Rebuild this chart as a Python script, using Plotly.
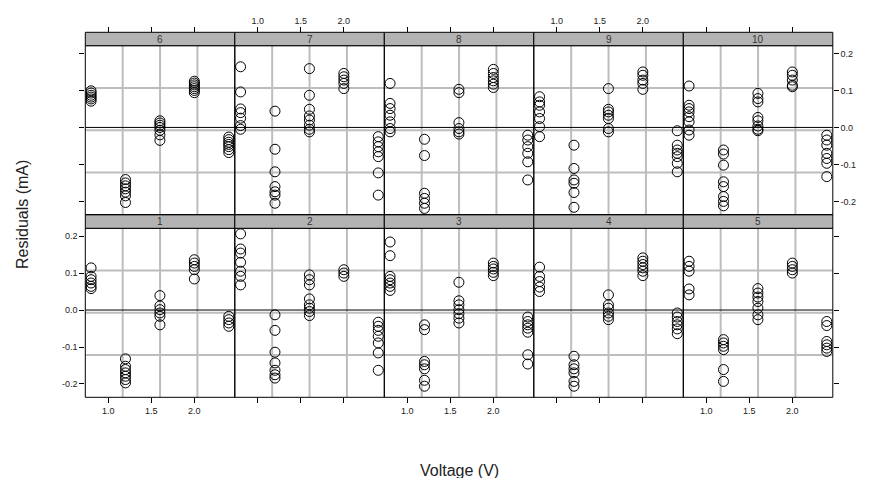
import plotly.graph_objects as go

# ---------------- data ----------------
voltages = [0.8, 1.2, 1.6, 2.0, 2.4]
panel_labels = ["1", "2", "3", "4", "5", "6", "7", "8", "9", "10"]

res_p1 = [[0.114, 0.091, 0.082, 0.073, 0.064, 0.058],
          [-0.132, -0.152, -0.161, -0.170, -0.179, -0.188, -0.197],
          [0.039, 0.011, 0.001, -0.008, -0.017, -0.040],
          [0.136, 0.127, 0.118, 0.109, 0.084],
          [-0.017, -0.026, -0.035, -0.044]]
res_p2 = [[0.206, 0.165, 0.154, 0.129, 0.105, 0.091, 0.068],
          [-0.013, -0.055, -0.114, -0.143, -0.163, -0.175, -0.184],
          [0.095, 0.082, 0.068, 0.030, 0.014, 0.005, -0.004, -0.015],
          [0.109, 0.100, 0.091],
          [-0.033, -0.044, -0.055, -0.071, -0.089, -0.116, -0.163]]
res_p3 = [[0.184, 0.147, 0.091, 0.082, 0.073, 0.064, 0.053],
          [-0.040, -0.053, -0.139, -0.148, -0.159, -0.190, -0.206],
          [0.075, 0.025, 0.014, 0.001, -0.010, -0.022, -0.035],
          [0.127, 0.118, 0.111, 0.102, 0.093],
          [-0.019, -0.031, -0.040, -0.049, -0.060, -0.121, -0.146]]
res_p4 = [[0.116, 0.091, 0.077, 0.062, 0.050],
          [-0.125, -0.148, -0.159, -0.170, -0.193, -0.206],
          [0.041, 0.014, 0.005, -0.008, -0.017, -0.026],
          [0.141, 0.132, 0.123, 0.114, 0.105, 0.093],
          [-0.008, -0.019, -0.031, -0.040, -0.051, -0.064]]
res_p5 = [[0.132, 0.118, 0.105, 0.057, 0.041],
          [-0.080, -0.089, -0.098, -0.107, -0.161, -0.193],
          [0.058, 0.046, 0.035, 0.023, 0.005, -0.013, -0.026],
          [0.127, 0.118, 0.109, 0.100],
          [-0.031, -0.042, -0.085, -0.094, -0.103, -0.112]]
res_p6 = [[0.099, 0.093, 0.087, 0.082, 0.077, 0.071],
          [-0.141, -0.150, -0.158, -0.166, -0.175, -0.185, -0.203],
          [0.018, 0.012, 0.006, 0.000, -0.008, -0.020, -0.035],
          [0.125, 0.120, 0.115, 0.110, 0.105, 0.100, 0.094],
          [-0.026, -0.033, -0.040, -0.046, -0.052, -0.060, -0.068]]
res_p7 = [[0.164, 0.096, 0.050, 0.040, 0.025, 0.005, -0.005],
          [0.044, -0.059, -0.120, -0.160, -0.174, -0.183, -0.205],
          [0.159, 0.087, 0.049, 0.031, 0.020, 0.006, -0.005, -0.012],
          [0.146, 0.137, 0.128, 0.119, 0.105],
          [-0.025, -0.039, -0.052, -0.066, -0.079, -0.123, -0.183]]
res_p8 = [[0.119, 0.065, 0.051, 0.033, 0.015, -0.003, -0.012],
          [-0.032, -0.076, -0.178, -0.192, -0.205, -0.219],
          [0.103, 0.094, 0.013, -0.003, -0.012, -0.018],
          [0.157, 0.146, 0.135, 0.126, 0.117, 0.108],
          [-0.021, -0.034, -0.052, -0.070, -0.093, -0.142]]
res_p9 = [[0.083, 0.069, 0.060, 0.042, 0.024, 0.002, -0.025],
          [-0.048, -0.111, -0.142, -0.151, -0.176, -0.216],
          [0.105, 0.049, 0.042, 0.033, 0.024, -0.003, -0.012],
          [0.150, 0.141, 0.128, 0.119, 0.103],
          [-0.009, -0.048, -0.061, -0.070, -0.079, -0.097, -0.120]]
res_p10 = [[0.112, 0.060, 0.051, 0.042, 0.029, 0.015, -0.007, -0.021],
           [-0.061, -0.072, -0.102, -0.147, -0.160, -0.187, -0.200, -0.212],
           [0.092, 0.078, 0.069, 0.027, 0.018, 0.004, -0.005, -0.009],
           [0.150, 0.141, 0.128, 0.114, 0.110],
           [-0.021, -0.034, -0.048, -0.070, -0.084, -0.097, -0.133]]

panels = [res_p1, res_p2, res_p3, res_p4, res_p5,
          res_p6, res_p7, res_p8, res_p9, res_p10]

x_ticks = [1.0, 1.5, 2.0]
y_ticks = [-0.2, -0.1, 0.0, 0.1, 0.2]

# ---------------- layout geometry (window pixels) ----------------
OFF = 8                      # default page body margin
W, H = 873 - 2 * OFF, 486 - 2 * OFF
left0, pw = 85.3, 149.5
rows = {  # row index: (strip_top, panel_top, panel_bottom)
    0: (32.3, 45.7, 214.7),    # top row (panels 6-10)
    1: (214.7, 228.3, 397.3),  # bottom row (panels 1-5)
}
XR = [0.733, 2.470]
YR = [-0.236, 0.221]

def px(x):
    return (x - OFF) / W

def py(y):
    return 1 - (y - OFF) / H

fig = go.Figure()
layout = dict(width=W, height=H, margin=dict(l=0, r=0, t=0, b=0),
              paper_bgcolor="white", plot_bgcolor="white",
              showlegend=False,
              font=dict(family="Liberation Sans, Arial, sans-serif", color="#222"))
shapes = []
annotations = []

tick_font = dict(size=9, color="#222", family="Liberation Sans, Arial, sans-serif")

for k, data in enumerate(panels):
    idx = k + 1
    if k < 5:
        row, col = 1, k
    else:
        row, col = 0, k - 5
    strip_top, ptop, pbot = rows[row]
    x0 = left0 + col * pw
    x1 = x0 + pw
    xa = "xaxis" if idx == 1 else f"xaxis{idx}"
    ya = "yaxis" if idx == 1 else f"yaxis{idx}"
    xr = "x" if idx == 1 else f"x{idx}"
    yr = "y" if idx == 1 else f"y{idx}"

    xs, ys = [], []
    for v, vals in zip(voltages, data):
        xs += [v] * len(vals)
        ys += vals
    fig.add_trace(go.Scatter(x=xs, y=ys, mode="markers", xaxis=xr, yaxis=yr,
                             marker=dict(symbol="circle-open", size=10, color="black",
                                         line=dict(width=1, color="black")),
                             hoverinfo="skip"))

    # x axis
    xcfg = dict(domain=[px(x0), px(x1)], range=XR, showgrid=False, zeroline=False,
                tickvals=x_ticks, ticktext=[f"{t:.1f}" for t in x_ticks],
                ticks="outside", ticklen=5, tickcolor="black", tickwidth=1,
                tickfont=tick_font, showline=False, fixedrange=True)
    if row == 1:
        xcfg.update(anchor=yr, side="bottom", showticklabels=(col % 2 == 0))
    else:
        xcfg.update(anchor="free", position=py(strip_top), side="top",
                    showticklabels=(col % 2 == 1))
    layout[xa] = xcfg

    # y axis
    ycfg = dict(domain=[py(pbot), py(ptop)], range=YR, showgrid=False, zeroline=False,
                anchor=xr, tickvals=y_ticks, ticktext=[f"{t:.1f}" for t in y_ticks],
                tickfont=tick_font, showline=False, fixedrange=True,
                tickcolor="black", tickwidth=1, ticklen=5)
    if col == 0:
        ycfg.update(side="left", ticks="outside", showticklabels=(row == 1))
    elif col == 4:
        ycfg.update(side="right", ticks="outside", showticklabels=(row == 0))
    else:
        ycfg.update(ticks="", showticklabels=False)
    layout[ya] = ycfg

    # grid lines (quarters of panel)
    for f in (0.25, 0.5, 0.75):
        shapes.append(dict(type="line", xref=f"{xr} domain", yref=f"{yr} domain",
                           x0=f, x1=f, y0=0, y1=1, layer="below",
                           line=dict(color="#bdbdbd", width=2)))
        shapes.append(dict(type="line", xref=f"{xr} domain", yref=f"{yr} domain",
                           x0=0, x1=1, y0=f, y1=f, layer="below",
                           line=dict(color="#bdbdbd", width=2)))
    # zero reference line
    shapes.append(dict(type="line", xref=f"{xr} domain", yref=yr,
                       x0=0, x1=1, y0=0, y1=0, layer="below",
                       line=dict(color="black", width=1)))
    # panel border
    shapes.append(dict(type="rect", xref="paper", yref="paper",
                       x0=px(x0), x1=px(x1), y0=py(pbot), y1=py(ptop),
                       line=dict(color="black", width=1), fillcolor="rgba(0,0,0,0)"))
    # strip
    shapes.append(dict(type="rect", xref="paper", yref="paper",
                       x0=px(x0), x1=px(x1), y0=py(ptop), y1=py(strip_top),
                       line=dict(color="black", width=1), fillcolor="#b3b3b3"))
    annotations.append(dict(x=px((x0 + x1) / 2), y=py((strip_top + ptop) / 2),
                            xref="paper", yref="paper", text=panel_labels[k],
                            showarrow=False, xanchor="center", yanchor="middle",
                            font=dict(size=10, color="#333")))

annotations.append(dict(x=px(22), y=py(215), xref="paper", yref="paper",
                        text="Residuals (mA)", textangle=-90, showarrow=False,
                        xanchor="center", yanchor="middle",
                        font=dict(size=16, color="#222")))
annotations.append(dict(x=px(459), y=py(470), xref="paper", yref="paper",
                        text="Voltage (V)", showarrow=False,
                        xanchor="center", yanchor="middle",
                        font=dict(size=16, color="#222")))

layout["shapes"] = shapes
layout["annotations"] = annotations
fig.update_layout(**layout)
fig.write_html("out.html")
